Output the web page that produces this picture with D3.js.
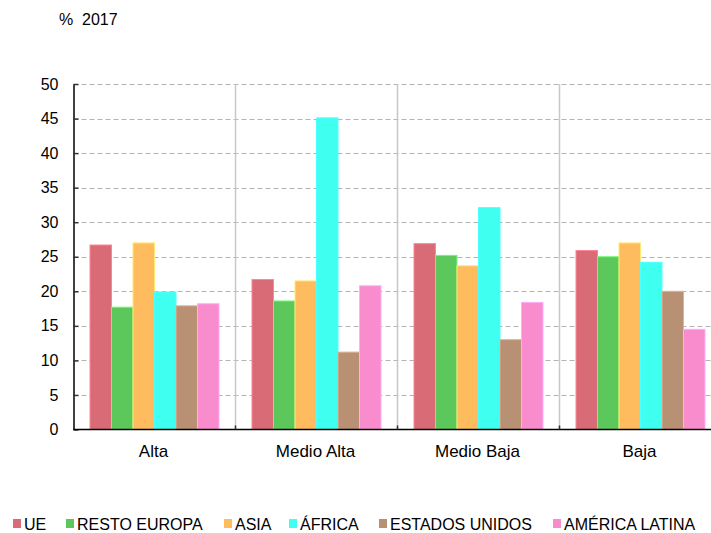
<!DOCTYPE html>
<html>
<head>
<meta charset="utf-8">
<script src="https://cdn.jsdelivr.net/npm/d3@7"></script>
<style>
body { margin: 0; background: #fff; }
text { font-family: "Liberation Sans", Arial, sans-serif; fill: #000; }
</style>
</head>
<body>
<script>
var categories = ["Alta", "Medio Alta", "Medio Baja", "Baja"];
var series = ["UE", "RESTO EUROPA", "ASIA", "ÁFRICA", "ESTADOS UNIDOS", "AMÉRICA LATINA"];
var colors = ["#d96b77", "#5cc85c", "#ffbc5e", "#3ffff0", "#b89074", "#f98ccc"];
var ue = [26.7, 21.7, 26.9, 25.9];
var restoEuropa = [17.7, 18.6, 25.2, 25.0];
var asia = [27.0, 21.5, 23.7, 27.0];
var africa = [19.9, 45.1, 32.1, 24.2];
var eeuu = [17.9, 11.2, 13.0, 20.0];
var americaLatina = [18.2, 20.8, 18.4, 14.5];
var yTicks = [0, 5, 10, 15, 20, 25, 30, 35, 40, 45, 50];
var legendX = [13, 66, 224, 289, 379, 553];

var values = [ue, restoEuropa, asia, africa, eeuu, americaLatina];

var w = 711, h = 533;
var mLeft = 73.5, mRight = 721.5, mTop = 84, mBottom = 429.5;

var svg = d3.select("body").append("svg")
    .attr("width", w)
    .attr("height", h);

var x0 = d3.scaleBand().domain(categories).range([mLeft, mRight]);
var x1 = d3.scaleBand().domain(series).range([16.5, x0.bandwidth() - 16.5]);
var y = d3.scaleLinear().domain([0, 50]).range([mBottom, mTop]);

// grid
svg.append("g").selectAll("line")
    .data(yTicks.filter(function(d){ return d > 0; }))
    .enter().append("line")
    .attr("x1", mLeft).attr("x2", mRight)
    .attr("y1", function(d){ return Math.round(y(d)) + 0.5; })
    .attr("y2", function(d){ return Math.round(y(d)) + 0.5; })
    .style("stroke", "#b4b4b4")
    .style("stroke-dasharray", "5,3");

// group separators
svg.append("g").selectAll("line")
    .data(categories.slice(1))
    .enter().append("line")
    .attr("x1", function(d){ return x0(d); })
    .attr("x2", function(d){ return x0(d); })
    .attr("y1", mTop).attr("y2", mBottom)
    .style("stroke", "#c8c8c8")
    .style("stroke-width", 1.5);

// bars
var groups = svg.append("g").selectAll("g")
    .data(categories)
    .enter().append("g")
    .attr("transform", function(d){ return "translate(" + x0(d) + ",0)"; });

groups.selectAll("rect")
    .data(function(d, i){
        return series.map(function(s, j){ return {s: s, v: values[j][i], c: colors[j]}; });
    })
    .enter().append("rect")
    .attr("x", function(d){ return x1(d.s); })
    .attr("y", function(d){ return y(d.v); })
    .attr("width", x1.bandwidth())
    .attr("height", function(d){ return y(0) - y(d.v); })
    .style("fill", function(d){ return d.c; })
    .style("stroke", function(d){ return d3.color(d.c).brighter(0.6); })
    .style("stroke-width", 1);

// y axis
var yAxis = svg.append("g")
    .attr("transform", "translate(" + mLeft + ",0)")
    .call(d3.axisLeft(y).tickValues(yTicks).tickSizeInner(-5).tickSizeOuter(0).tickPadding(15));
yAxis.select(".domain").style("stroke", "#000").style("stroke-width", 1.5);
yAxis.selectAll(".tick line").style("stroke", "#333").style("stroke-width", 1.5);
yAxis.selectAll("text").style("font-size", "16px").style("font-family", "Liberation Sans, Arial, sans-serif");

// x axis
var xAxis = svg.append("g")
    .attr("transform", "translate(0," + mBottom + ")");
xAxis.append("line")
    .attr("x1", mLeft).attr("x2", mRight)
    .style("stroke", "#000").style("stroke-width", 1.5);
xAxis.selectAll(".sep")
    .data(categories.slice(1))
    .enter().append("line")
    .attr("x1", function(d){ return x0(d); })
    .attr("x2", function(d){ return x0(d); })
    .attr("y1", -4).attr("y2", 0)
    .style("stroke", "#333").style("stroke-width", 1.5);
xAxis.selectAll("text")
    .data(categories)
    .enter().append("text")
    .attr("x", function(d){ return x0(d) + x0.bandwidth() / 2 - 1; })
    .attr("y", 27)
    .attr("text-anchor", "middle")
    .style("font-size", "17px")
    .text(function(d){ return d; });

// title
svg.append("text")
    .attr("x", 59).attr("y", 25)
    .style("font-size", "16px")
    .text("%");
svg.append("text")
    .attr("x", 82).attr("y", 25)
    .style("font-size", "16px")
    .text("2017");

// legend
var legend = svg.append("g").selectAll("g")
    .data(series)
    .enter().append("g")
    .attr("transform", function(d, i){ return "translate(" + legendX[i] + ",519)"; });
legend.append("rect")
    .attr("width", 8).attr("height", 9)
    .style("fill", function(d, i){ return colors[i]; });
legend.append("text")
    .attr("x", 11).attr("y", 10.5)
    .style("font-size", "16px")
    .text(function(d){ return d; });
</script>
</body>
</html>
